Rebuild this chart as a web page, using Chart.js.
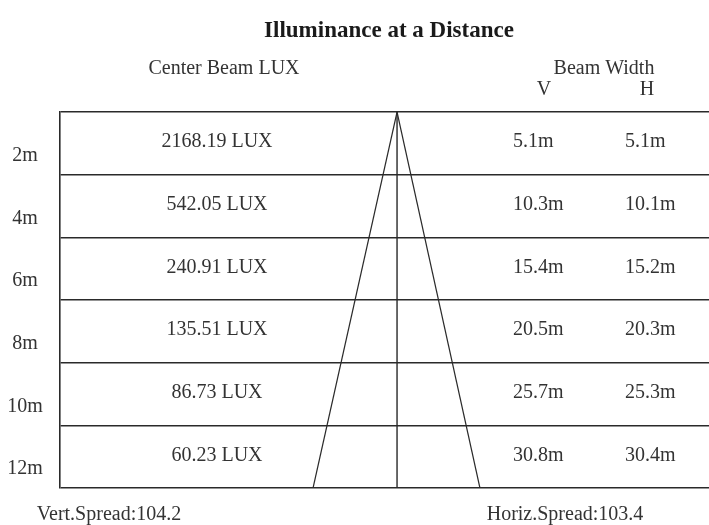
<!DOCTYPE html>
<html><head><meta charset="utf-8">
<script src="https://cdn.jsdelivr.net/npm/chart.js@4.4.1/dist/chart.umd.min.js"></script>
<style>html,body{margin:0;padding:0;background:#fff;}#wrap{width:709px;height:525px;}</style>
</head><body><div id="wrap"><canvas id="c"></canvas></div>
<script>
const distances = [2, 4, 6, 8, 10, 12];
const distanceLabels = ["2m", "4m", "6m", "8m", "10m", "12m"];
const centerLux = ["2168.19 LUX", "542.05 LUX", "240.91 LUX", "135.51 LUX", "86.73 LUX", "60.23 LUX"];
const beamV = [5.1, 10.3, 15.4, 20.5, 25.7, 30.8];
const beamH = [5.1, 10.1, 15.2, 20.3, 25.3, 30.4];
const vertSpread = 104.2;
const horizSpread = 103.4;

const INK = '#2a2a2a';
const TXT = '#333333';
const SERIF = '"Liberation Serif", "DejaVu Serif", serif';
const last = distances.length - 1;

const textPlugin = {
  id: 'tableText',
  afterDraw(chart) {
    const ctx = chart.ctx, y = chart.scales.y;
    ctx.save();
    ctx.fillStyle = TXT;
    ctx.textBaseline = 'middle';
    ctx.font = 'bold 23px ' + SERIF;
    ctx.textAlign = 'center';
    ctx.fillStyle = '#1a1a1a';
    ctx.fillText('Illuminance at a Distance', 389, 31);
    ctx.fillStyle = TXT;
    ctx.font = '20px ' + SERIF;
    ctx.fillText('Center Beam LUX', 224, 69);
    ctx.fillText('Beam Width', 604, 69);
    ctx.fillText('V', 544, 90);
    ctx.fillText('H', 647, 90);
    distances.forEach((d, i) => {
      const yRow = y.getPixelForValue(d - 1.04);
      const yLab = y.getPixelForValue(d - 0.6);
      ctx.textAlign = 'center';
      ctx.fillText(distanceLabels[i], 25, yLab);
      ctx.fillText(centerLux[i], 217, yRow);
      ctx.textAlign = 'left';
      ctx.fillText(beamV[i].toFixed(1) + 'm', 513, yRow);
      ctx.fillText(beamH[i].toFixed(1) + 'm', 625, yRow);
    });
    const yb = y.getPixelForValue(distances[last]) + 27;
    ctx.textAlign = 'center';
    ctx.fillText('Vert.Spread:' + vertSpread, 109, yb);
    ctx.fillText('Horiz.Spread:' + horizSpread, 565, yb);
    ctx.restore();
  }
};

new Chart(document.getElementById('c'), {
  type: 'scatter',
  data: {
    datasets: [
      { data: [{x: 0, y: 0}, {x: -beamV[last] / 2, y: distances[last]}], showLine: true, borderColor: INK, borderWidth: 1.2, pointRadius: 0 },
      { data: [{x: 0, y: 0}, {x: beamH[last] / 2, y: distances[last]}], showLine: true, borderColor: INK, borderWidth: 1.2, pointRadius: 0 },
      { data: [{x: 0, y: 0}, {x: 0, y: distances[last]}], showLine: true, borderColor: INK, borderWidth: 1.4, pointRadius: 0 }
    ]
  },
  options: {
    responsive: true, maintainAspectRatio: false, animation: false,
    layout: { padding: { left: 60, right: 0, top: 112, bottom: 37 } },
    plugins: { legend: { display: false }, tooltip: { enabled: false } },
    scales: {
      x: { type: 'linear', display: false, min: -61.8, max: 57.2 },
      y: {
        type: 'linear', reverse: true, min: 0, max: 12,
        afterFit(s) { s.width = 0; },
        ticks: { display: false, stepSize: 2 },
        grid: { color: INK, lineWidth: 1.6, drawTicks: false },
        border: { display: true, color: INK, width: 1.6 }
      }
    }
  },
  plugins: [textPlugin]
});
</script></body></html>
